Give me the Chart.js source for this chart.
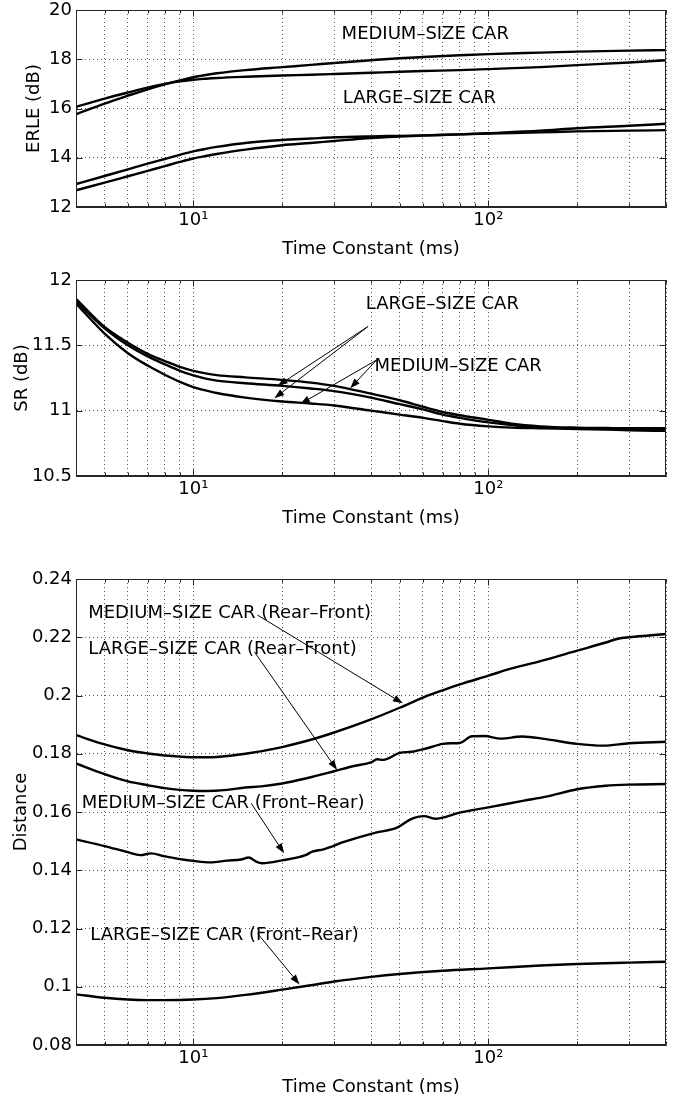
<!DOCTYPE html>
<html>
<head>
<meta charset="utf-8">
<script src="https://cdn.jsdelivr.net/npm/chart.js@4.4.1/dist/chart.umd.min.js"></script>
<style>
  body { margin: 0; background: #fff; }
  #wrap { position: relative; width: 685px; height: 1102px; background: #fff; }
  canvas { position: absolute; left: 0; }
</style>
</head>
<body>
<div id="wrap">
  <canvas id="erle" width="685" height="265" style="top:0px"></canvas>
  <canvas id="sr" width="685" height="275" style="top:265px"></canvas>
  <canvas id="dist" width="685" height="567" style="top:535px"></canvas>
</div>
<script>
// x ticks shared by all three panels (log axis, 4..400 ms)
const timeTicks = [4, 5, 6, 7, 8, 9, 10, 20, 30, 40, 50, 60, 70, 80, 90, 100, 200, 300, 400];

// ERLE panel
const erleX = [4, 5, 6, 7, 8, 9, 10, 11, 12, 15, 20, 25, 30, 40, 50, 60, 80, 100, 150, 200, 300, 400];
const erleMedium1 = [15.77, 16.2, 16.52, 16.78, 16.98, 17.14, 17.27, 17.36, 17.43, 17.56, 17.68, 17.77, 17.85, 17.96, 18.04, 18.09, 18.16, 18.21, 18.27, 18.31, 18.35, 18.37];
const erleMedium2 = [16.07, 16.4, 16.65, 16.85, 17.0, 17.1, 17.17, 17.21, 17.24, 17.29, 17.34, 17.37, 17.4, 17.45, 17.49, 17.52, 17.56, 17.6, 17.68, 17.76, 17.87, 17.96];
const erleLarge1 = [12.93, 13.26, 13.53, 13.76, 13.95, 14.12, 14.26, 14.36, 14.44, 14.6, 14.72, 14.78, 14.83, 14.87, 14.89, 14.91, 14.95, 14.98, 15.03, 15.07, 15.1, 15.12];
const erleLarge2 = [12.68, 12.99, 13.25, 13.47, 13.66, 13.83, 13.97, 14.07, 14.15, 14.33, 14.51, 14.6, 14.68, 14.8, 14.86, 14.9, 14.95, 15.0, 15.1, 15.2, 15.3, 15.38];

// SR panel
const srX = [4, 5, 6, 7, 8, 9, 10, 11, 12, 15, 20, 25, 30, 40, 50, 60, 70, 80, 100, 120, 150, 200, 250, 300, 400];
const srA = [11.855, 11.64, 11.52, 11.435, 11.38, 11.335, 11.305, 11.285, 11.272, 11.255, 11.235, 11.215, 11.19, 11.13, 11.08, 11.03, 10.99, 10.965, 10.93, 10.9, 10.88, 10.87, 10.867, 10.865, 10.865];
const srB = [11.84, 11.63, 11.5, 11.415, 11.355, 11.305, 11.27, 11.245, 11.23, 11.21, 11.19, 11.17, 11.15, 11.1, 11.05, 11.01, 10.97, 10.945, 10.91, 10.89, 10.87, 10.865, 10.862, 10.86, 10.86];
const srC = [11.82, 11.59, 11.44, 11.345, 11.275, 11.22, 11.18, 11.155, 11.135, 11.1, 11.07, 11.055, 11.04, 11.0, 10.97, 10.945, 10.92, 10.9, 10.88, 10.87, 10.865, 10.86, 10.855, 10.85, 10.845];

// Distance panel
const medRearX = [4, 5, 6, 7, 8, 9, 10, 11, 12, 15, 20, 25, 30, 40, 50, 60, 70, 80, 100, 120, 150, 200, 250, 275, 300, 350, 400];
const medRearY = [0.1864, 0.1832, 0.1812, 0.1801, 0.1794, 0.179, 0.1788, 0.1788, 0.1789, 0.18, 0.1823, 0.1848, 0.1873, 0.1918, 0.1958, 0.1993, 0.2018, 0.2038, 0.2068, 0.2093, 0.2118, 0.2154, 0.2182, 0.2195, 0.22, 0.2206, 0.2211];
const largeRearX = [4, 5, 6, 7, 8, 9, 10, 11, 13, 15, 17, 20, 24, 30, 35, 40, 42, 44, 50, 55, 62, 70, 75, 80, 88, 97, 110, 130, 155, 200, 245, 300, 400];
const largeRearY = [0.1767, 0.173, 0.1705, 0.1692, 0.1682, 0.1676, 0.1673, 0.1672, 0.1676, 0.1684, 0.1688, 0.1698, 0.1715, 0.174, 0.1758, 0.177, 0.1781, 0.1779, 0.1803, 0.1807, 0.1819, 0.1834, 0.1836, 0.1837, 0.186, 0.1861, 0.1852, 0.1859, 0.1851, 0.1834, 0.1828, 0.1836, 0.1841];
const medFrontX = [4, 5, 6, 6.6, 7.2, 7.9, 9, 10, 11.4, 13, 14.5, 15.4, 16.3, 17.1, 20, 24, 25.3, 27.6, 32.6, 41.5, 49, 54.5, 60.5, 66, 80, 100, 132, 157, 200, 250, 300, 400];
const medFrontY = [0.1506, 0.1483, 0.1462, 0.1452, 0.1458, 0.1449, 0.1438, 0.1432, 0.1427, 0.1433, 0.1437, 0.1444, 0.143, 0.1424, 0.1434, 0.1452, 0.1464, 0.1472, 0.1498, 0.1529, 0.1546, 0.1575, 0.1586, 0.1577, 0.1598, 0.1616, 0.1639, 0.1653, 0.1678, 0.169, 0.1694, 0.1696];
const largeFrontX = [4, 5, 6, 7, 8, 10, 12, 15, 20, 25, 30, 40, 50, 70, 100, 150, 200, 300, 400];
const largeFrontY = [0.0974, 0.0962, 0.0956, 0.0954, 0.0954, 0.0956, 0.0961, 0.0972, 0.099, 0.1005, 0.1018, 0.1034, 0.1044, 0.1055, 0.1063, 0.1073, 0.1078, 0.1083, 0.1086];

const FONT = { family: 'DejaVu Sans', size: 18 };

function pts(xs, ys) {
    return xs.map((x, i) => ({ x: x, y: ys[i] }));
}

function line(label, xs, ys) {
    return {
        label: label,
        data: pts(xs, ys),
        borderColor: '#000',
        borderWidth: 2.4,
        pointRadius: 0,
        cubicInterpolationMode: 'monotone',
        fill: false
    };
}

// box, inward ticks and the text/arrow notes, MATLAB style
function framePlugin(notes, arrows) {
    return {
        id: 'frame',
        afterDatasetsDraw(chart) {
            const { ctx, chartArea: a, scales: { x, y } } = chart;
            const L = Math.round(a.left) + 0.5, R = Math.round(a.right) - 0.5;
            const T = Math.round(a.top) + 0.5, B = Math.round(a.bottom) - 0.5;
            ctx.save();
            ctx.strokeStyle = '#262626';
            ctx.lineWidth = 1;
            ctx.strokeRect(L, T, R - L, B - T);
            ctx.beginPath();
            x.ticks.forEach(t => {
                const px = Math.round(x.getPixelForValue(t.value)) + 0.5;
                const len = (t.value === 10 || t.value === 100) ? 6 : 3;
                ctx.moveTo(px, B); ctx.lineTo(px, B - len);
                ctx.moveTo(px, T); ctx.lineTo(px, T + len);
            });
            y.ticks.forEach(t => {
                const py = Math.round(y.getPixelForValue(t.value)) + 0.5;
                ctx.moveTo(L, py); ctx.lineTo(L + 6, py);
                ctx.moveTo(R, py); ctx.lineTo(R - 6, py);
            });
            ctx.stroke();

            ctx.fillStyle = '#000';
            ctx.font = '18px "DejaVu Sans"';
            ctx.textAlign = 'left';
            ctx.textBaseline = 'middle';
            notes.forEach(n => {
                ctx.fillText(n.text, x.getPixelForValue(n.x), y.getPixelForValue(n.y));
            });

            ctx.strokeStyle = '#000';
            arrows.forEach(ar => {
                const x1 = x.getPixelForValue(ar.from[0]), y1 = y.getPixelForValue(ar.from[1]);
                const x2 = x.getPixelForValue(ar.to[0]), y2 = y.getPixelForValue(ar.to[1]);
                const ang = Math.atan2(y2 - y1, x2 - x1);
                const hl = 10, hw = 3.5;
                const bx = x2 - hl * Math.cos(ang), by = y2 - hl * Math.sin(ang);
                ctx.beginPath();
                ctx.moveTo(x1, y1);
                ctx.lineTo(bx, by);
                ctx.stroke();
                ctx.beginPath();
                ctx.moveTo(x2, y2);
                ctx.lineTo(bx + hw * Math.sin(ang), by - hw * Math.cos(ang));
                ctx.lineTo(bx - hw * Math.sin(ang), by + hw * Math.cos(ang));
                ctx.closePath();
                ctx.fill();
            });
            ctx.restore();
        }
    };
}

function timeAxis(axisHeight, titlePad) {
    return {
        type: 'logarithmic',
        min: 4,
        max: 400,
        afterBuildTicks: s => { s.ticks = timeTicks.map(v => ({ value: v })); },
        afterFit: s => { s.height = axisHeight; s.paddingLeft = 0; s.paddingRight = 0; },
        ticks: {
            autoSkip: false,
            maxRotation: 0,
            padding: 3,
            color: '#000',
            font: FONT,
            callback: v => v === 10 ? '10\u00b9' : (v === 100 ? '10\u00b2' : '')
        },
        grid: { color: '#555', lineWidth: 1, drawTicks: false },
        border: { color: '#262626', width: 1, dash: [1, 3] },
        title: { display: true, text: 'Time Constant (ms)', color: '#000', font: FONT, padding: { top: 0, bottom: titlePad } }
    };
}

function valueAxis(min, max, step, title, titlePad) {
    return {
        type: 'linear',
        min: min,
        max: max,
        afterFit: s => { s.width = 76; s.paddingTop = 0; s.paddingBottom = 0; },
        ticks: {
            stepSize: step,
            padding: 4,
            color: '#000',
            font: FONT,
            callback: v => String(Math.round(v * 1000) / 1000)
        },
        grid: { color: '#555', lineWidth: 1, drawTicks: false },
        border: { color: '#262626', width: 1, dash: [1, 3] },
        title: { display: true, text: title, color: '#000', font: FONT, padding: { top: titlePad, bottom: 0 } }
    };
}

function makeChart(id, datasets, xAxis, yAxis, padTop, notes, arrows) {
    return new Chart(document.getElementById(id).getContext('2d'), {
        type: 'line',
        data: { datasets: datasets },
        options: {
            responsive: false,
            animation: false,
            devicePixelRatio: 1,
            layout: { padding: { top: padTop, right: 19, bottom: 0, left: 0 } },
            plugins: { legend: { display: false }, tooltip: { enabled: false } },
            scales: { x: xAxis, y: yAxis }
        },
        plugins: [framePlugin(notes, arrows)]
    });
}

makeChart('erle',
    [
        line('Medium 1', erleX, erleMedium1),
        line('Medium 2', erleX, erleMedium2),
        line('Large 1', erleX, erleLarge1),
        line('Large 2', erleX, erleLarge2)
    ],
    timeAxis(58, 5),
    valueAxis(12, 20, 2, 'ERLE (dB)', 24),
    10,
    [
        { text: 'MEDIUM\u2013SIZE CAR', x: 31.8, y: 19.0 },
        { text: 'LARGE\u2013SIZE CAR', x: 32.1, y: 16.42 }
    ],
    []
);

makeChart('sr',
    [
        line('A', srX, srA),
        line('B', srX, srB),
        line('C', srX, srC)
    ],
    timeAxis(64, 11),
    valueAxis(10.5, 12, 0.5, 'SR (dB)', 12),
    15,
    [
        { text: 'LARGE\u2013SIZE CAR', x: 38.4, y: 11.81 },
        { text: 'MEDIUM\u2013SIZE CAR', x: 41.1, y: 11.342 }
    ],
    [
        { from: [39, 11.643], to: [19.3, 11.19] },
        { from: [39, 11.643], to: [18.8, 11.095] },
        { from: [41.8, 11.388], to: [34, 11.171] },
        { from: [41.8, 11.388], to: [23, 11.05] }
    ]
);

makeChart('dist',
    [
        line('Medium Rear-Front', medRearX, medRearY),
        line('Large Rear-Front', largeRearX, largeRearY),
        line('Medium Front-Rear', medFrontX, medFrontY),
        line('Large Front-Rear', largeFrontX, largeFrontY)
    ],
    timeAxis(57, 4),
    valueAxis(0.08, 0.24, 0.02, 'Distance', 11),
    44,
    [
        { text: 'MEDIUM\u2013SIZE CAR (Rear\u2013Front)', x: 4.4, y: 0.2283 },
        { text: 'LARGE\u2013SIZE CAR (Rear\u2013Front)', x: 4.4, y: 0.216 },
        { text: 'MEDIUM\u2013SIZE CAR (Front\u2013Rear)', x: 4.18, y: 0.1631 },
        { text: 'LARGE\u2013SIZE CAR (Front\u2013Rear)', x: 4.47, y: 0.1178 }
    ],
    [
        { from: [16.5, 0.2276], to: [51.3, 0.1973] },
        { from: [16.1, 0.215], to: [30.7, 0.1744] },
        { from: [15.7, 0.163], to: [20.3, 0.1458] },
        { from: [16.5, 0.1183], to: [22.9, 0.1008] }
    ]
);
</script>
</body>
</html>
